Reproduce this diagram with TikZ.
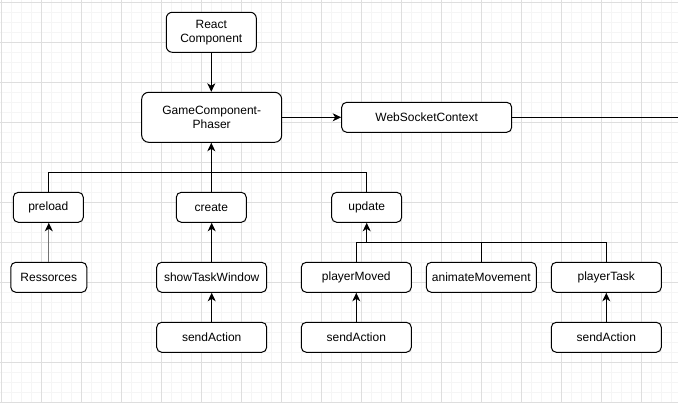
\documentclass[tikz,border=0pt]{standalone}
\usepackage{fontspec}
\setmainfont{Liberation Sans}
\usetikzlibrary{arrows.meta}
\definecolor{gridminor}{HTML}{F5F5F5}
\definecolor{gridmajor}{HTML}{DEDEDE}
\begin{document}
\begin{tikzpicture}[x=1pt,y=-1pt,
  box/.style={draw=black,line width=1pt,rounded corners=5pt,fill=white,
    minimum height=30pt,inner sep=0pt,align=center,
    font=\fontsize{12}{14}\selectfont},
  wire/.style={line width=1pt,draw=black},
  arr/.style={wire,-{Stealth[length=8.5pt,width=8pt,inset=2.5pt]}}]
\useasboundingbox (0,0) rectangle (678,403);
\fill[white] (0,0) rectangle (678,403);
% grid
\foreach \x in {1.3,11.3,...,678} \draw[gridminor,line width=0.8pt] (\x,0) -- (\x,403);
\foreach \y in {2.7,12.7,...,403} \draw[gridminor,line width=0.8pt] (0,\y) -- (678,\y);
\foreach \x in {1.3,41.3,...,678} \draw[gridmajor,line width=0.9pt] (\x,0) -- (\x,403);
\foreach \y in {2.7,42.7,...,403} \draw[gridmajor,line width=0.9pt] (0,\y) -- (678,\y);
% nodes
\node[box,minimum width=90pt,minimum height=40pt,rounded corners=6pt] (react) at (211.3,32.3) {React\\Component};
\node[box,minimum width=140pt,minimum height=50pt,rounded corners=7pt] (gcp) at (211.7,117.3) {GameComponent-\\Phaser};
\node[box,minimum width=170pt] (wsc) at (426.7,117.3) {WebSocketContext};
\node[box,minimum width=70pt] (preload) at (48.3,207.3) {preload};
\node[box,minimum width=70pt] (create) at (211.3,207.3) {create};
\node[box,minimum width=70pt] (update) at (366.7,207.3) {update};
\node[box,minimum width=76pt] (res) at (48.8,277.3) {Ressorces};
\node[box,minimum width=110pt] (stw) at (211.7,277.3) {showTaskWindow};
\node[box,minimum width=110pt] (sa1) at (211.7,337.3) {sendAction};
\node[box,minimum width=110pt] (pm) at (356.3,277.3) {playerMoved};
\node[box,minimum width=110pt] (sa2) at (356.3,337.3) {sendAction};
\node[box,minimum width=110pt] (am) at (481.3,277.3) {animateMovement};
\node[box,minimum width=110pt] (pt) at (606.3,277.3) {playerTask};
\node[box,minimum width=110pt] (sa3) at (606.3,337.3) {sendAction};
% coordinates
\coordinate (wend) at (678,117.3);
\coordinate (bus1) at (211.5,172.3);
\coordinate (bus2) at (366.7,242.3);
% connectors
\draw[arr] (react.south) -- (react.south |- gcp.north);
\draw[arr] (gcp.east) -- (wsc.west);
\draw[wire] (wsc.east) -- (wend);
\draw[wire] (preload.north) |- (bus1);
\draw[wire] (update.north) |- (bus1);
\draw[arr] (create.north) -- (create.north |- gcp.south);
\draw[wire] (pm.north) |- (bus2);
\draw[wire] (pt.north) |- (bus2);
\draw[wire] (am.north) -- (am.north |- bus2);
\draw[arr] (bus2) -- (update.south);
\draw[line width=1.2pt,draw=black!55,-{Stealth[length=8.5pt,width=8pt,inset=2.5pt,fill=black,color=black]}] (res.north) -- (res.north |- preload.south);
\draw[arr] (stw.north) -- (stw.north |- create.south);
\draw[arr] (sa1.north) -- (stw.south);
\draw[arr] (sa2.north) -- (pm.south);
\draw[arr] (sa3.north) -- (pt.south);
\end{tikzpicture}
\end{document}
